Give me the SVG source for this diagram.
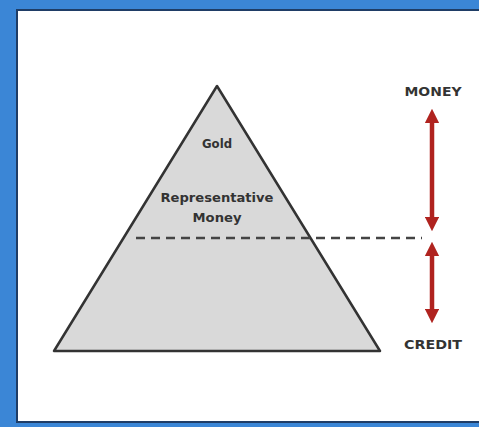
<svg xmlns="http://www.w3.org/2000/svg" width="479" height="427" viewBox="0 0 479 427">
<defs>
<style>
.lbl{font-family:"DejaVu Sans",Verdana,sans-serif;font-weight:bold;font-size:12px;fill:#333;text-anchor:middle}
.arr{stroke:#b0231f;stroke-width:4.5;fill:none}
</style>
<marker id="ah" viewBox="0 0 10 10" refX="5" refY="5" markerWidth="3.2" markerHeight="3.2" orient="auto-start-reverse" markerUnits="strokeWidth">
<path d="M0,0 L10,5 L0,10 z" fill="#b0231f"/>
</marker>
</defs>
<rect x="0" y="0" width="479" height="427" fill="#3b86d6"/>
<rect x="17" y="10" width="470" height="412" fill="#fff" stroke="#1f3d66" stroke-width="2"/>
<g id="pyramid">
<polygon points="217,86 54,351 380,351" fill="#d9d9d9" stroke="#333" stroke-width="2.5" stroke-linejoin="round"/>
<text class="lbl" x="217" y="148" textLength="30" lengthAdjust="spacingAndGlyphs">Gold</text>
<text class="lbl" x="217" y="202" textLength="113" lengthAdjust="spacingAndGlyphs">Representative</text>
<text class="lbl" x="217" y="222" textLength="49" lengthAdjust="spacingAndGlyphs">Money</text>
</g>
<g id="money-label"><text class="lbl" x="433" y="96" textLength="57" lengthAdjust="spacingAndGlyphs">MONEY</text></g>
<g id="credit-label"><text class="lbl" x="433" y="349" textLength="58" lengthAdjust="spacingAndGlyphs">CREDIT</text></g>
<g id="connectors">
<line x1="136" y1="238" x2="422" y2="238" stroke="#444" stroke-width="2.5" stroke-dasharray="9,6"/>
<line class="arr" x1="432" y1="116" x2="432" y2="224" marker-start="url(#ah)" marker-end="url(#ah)"/>
<line class="arr" x1="432" y1="249" x2="432" y2="316" marker-start="url(#ah)" marker-end="url(#ah)"/>
</g>
</svg>
